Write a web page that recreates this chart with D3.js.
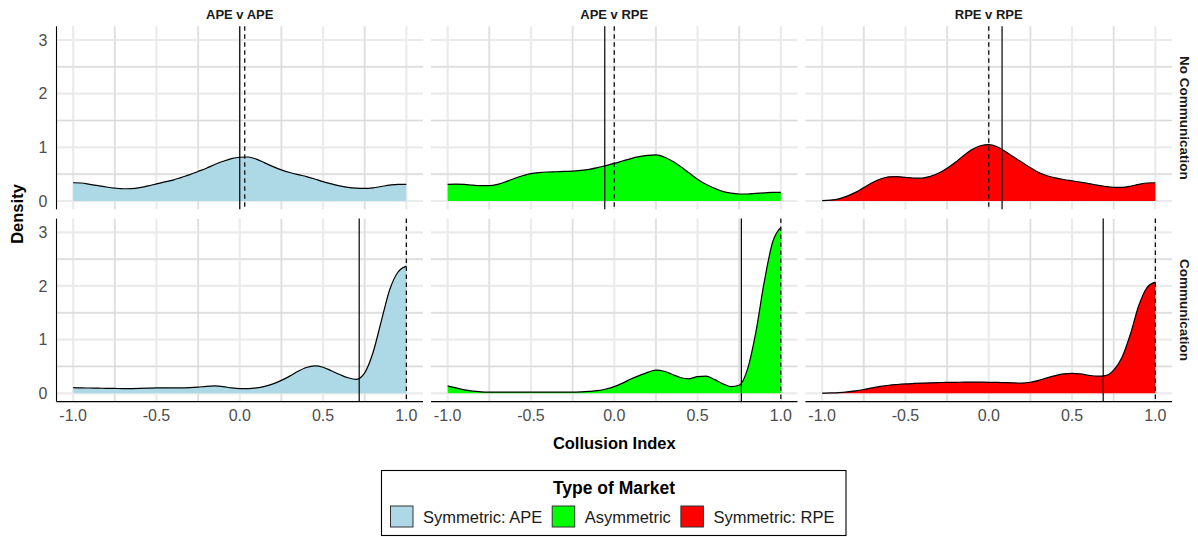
<!DOCTYPE html>
<html>
<head>
<meta charset="utf-8">
<script src="https://cdn.jsdelivr.net/npm/d3@7"></script>
<style>
  body { margin: 0; background: #fff; }
  svg { display: block; font-family: "Liberation Sans", Arial, Helvetica, sans-serif; }
</style>
</head>
<body>
<svg id="chart" width="1198" height="537"></svg>
<script>
// ---- data -------------------------------------------------------------
const markets = ["APE v APE", "APE v RPE", "RPE v RPE"];
const conditions = ["No Communication", "Communication"];
const legendLabels = ["Symmetric: APE", "Asymmetric", "Symmetric: RPE"];
const fills = ["#ADD8E6", "#00FF00", "#FF0000"];
const xTicks = [-1.0, -0.5, 0.0, 0.5, 1.0];
const xTickLabels = ["-1.0", "-0.5", "0.0", "0.5", "1.0"];
const yTicks = [0, 1, 2, 3];

// evaluation grid of the collusion index
const xGrid = [-1.00, -0.95, -0.90, -0.85, -0.80, -0.75, -0.70, -0.65, -0.60, -0.55,
               -0.50, -0.45, -0.40, -0.35, -0.30, -0.25, -0.20, -0.15, -0.10, -0.05,
                0.00,  0.05,  0.10,  0.15,  0.20,  0.25,  0.30,  0.35,  0.40,  0.45,
                0.50,  0.55,  0.60,  0.65,  0.70,  0.75,  0.80,  0.85,  0.90,  0.95, 1.00];

// kernel density estimates, no communication
const densApeNoComm = [0.34, 0.335, 0.31, 0.285, 0.26, 0.24, 0.228, 0.232, 0.25, 0.28,
                       0.32, 0.355, 0.39, 0.44, 0.49, 0.55, 0.61, 0.68, 0.74, 0.79,
                       0.815, 0.82, 0.78, 0.71, 0.64, 0.58, 0.53, 0.49, 0.455, 0.41,
                       0.36, 0.32, 0.28, 0.255, 0.24, 0.235, 0.245, 0.27, 0.295, 0.31, 0.31];
const densMixNoComm = [0.31, 0.315, 0.31, 0.295, 0.285, 0.285, 0.31, 0.36, 0.42, 0.47,
                       0.51, 0.53, 0.54, 0.545, 0.55, 0.555, 0.57, 0.59, 0.62, 0.66,
                       0.70, 0.745, 0.79, 0.825, 0.85, 0.86, 0.82, 0.74, 0.64, 0.52,
                       0.405, 0.31, 0.24, 0.18, 0.145, 0.13, 0.13, 0.14, 0.15, 0.16, 0.16];
const densRpeNoComm = [0.005, 0.015, 0.04, 0.09, 0.16, 0.25, 0.34, 0.41, 0.45, 0.455,
                       0.44, 0.425, 0.425, 0.46, 0.52, 0.61, 0.72, 0.85, 0.96, 1.03,
                       1.05, 1.01, 0.92, 0.82, 0.72, 0.62, 0.53, 0.47, 0.43, 0.40,
                       0.375, 0.35, 0.325, 0.295, 0.27, 0.255, 0.255, 0.275, 0.31, 0.335, 0.34];
// kernel density estimates, communication
const densApeComm = [0.105, 0.10, 0.098, 0.095, 0.092, 0.09, 0.088, 0.088, 0.09, 0.095,
                     0.10, 0.102, 0.10, 0.10, 0.105, 0.115, 0.13, 0.137, 0.125, 0.10,
                     0.087, 0.088, 0.10, 0.13, 0.175, 0.24, 0.32, 0.41, 0.48, 0.51,
                     0.485, 0.42, 0.35, 0.29, 0.26, 0.38, 0.76, 1.35, 1.93, 2.26, 2.37];
const densMixComm = [0.137, 0.10, 0.062, 0.04, 0.028, 0.022, 0.02, 0.02, 0.02, 0.02,
                     0.02, 0.02, 0.02, 0.02, 0.02, 0.02, 0.025, 0.035, 0.05, 0.08,
                     0.124, 0.19, 0.267, 0.33, 0.39, 0.43, 0.41, 0.35, 0.29, 0.27,
                     0.31, 0.32, 0.26, 0.18, 0.124, 0.15, 0.45, 1.14, 2.07, 2.81, 3.09];
const densRpeComm = [0.003, 0.006, 0.012, 0.025, 0.045, 0.07, 0.10, 0.128, 0.15, 0.164,
                     0.175, 0.183, 0.19, 0.195, 0.2, 0.203, 0.205, 0.207, 0.208, 0.207,
                     0.205, 0.202, 0.198, 0.193, 0.19, 0.205, 0.24, 0.29, 0.33, 0.36,
                     0.37, 0.36, 0.335, 0.32, 0.33, 0.43, 0.67, 1.10, 1.63, 1.97, 2.07];

// mean (solid) and median (dashed) of the collusion index per panel
const meanNoComm   = [0.00, -0.057, 0.08];
const medianNoComm = [0.03,  0.00,  0.00];
const meanComm     = [0.717, 0.763, 0.687];
const medianComm   = [1.00,  1.00,  1.00];

const densities = [[densApeNoComm, densMixNoComm, densRpeNoComm],
                   [densApeComm, densMixComm, densRpeComm]];
const means = [meanNoComm, meanComm];
const medians = [medianNoComm, medianComm];

// ---- layout -----------------------------------------------------------
const svg = d3.select("#chart");
const panelLeft = [56.5, 431, 805.5];
const panelTop = [26.3, 218.6];
const W = 366.5, H = 183;

const x = d3.scaleLinear().domain([-1.1, 1.1]).range([0, W]);
const y = d3.scaleLinear().domain([-0.155, 3.255]).range([H, 0]);

const minorX = [-0.75, -0.25, 0.25, 0.75];
const minorY = [0.5, 1.5, 2.5];

const area = d3.area()
  .x((d, i) => x(xGrid[i]))
  .y0(y(0))
  .y1(d => y(d))
  .curve(d3.curveMonotoneX);
const line = d3.line()
  .x((d, i) => x(xGrid[i]))
  .y(d => y(d))
  .curve(d3.curveMonotoneX);

conditions.forEach((cond, r) => {
  markets.forEach((mkt, c) => {
    const g = svg.append("g").attr("transform", `translate(${panelLeft[c]},${panelTop[r]})`);

    // grid
    const grid = g.append("g");
    grid.selectAll(".gx").data(xTicks.concat(minorX)).join("line")
      .attr("x1", d => x(d)).attr("x2", d => x(d)).attr("y1", 0).attr("y2", H)
      .attr("stroke", "#ebebeb").attr("stroke-width", 2.2);
    grid.selectAll(".gy").data(yTicks.concat(minorY)).join("line")
      .attr("y1", d => y(d)).attr("y2", d => y(d)).attr("x1", 0).attr("x2", W)
      .attr("stroke", "#ebebeb").attr("stroke-width", 2.2);
    grid.selectAll(".mx").data(minorX).join("line")
      .attr("x1", d => x(d)).attr("x2", d => x(d)).attr("y1", 0).attr("y2", H)
      .attr("stroke", "#d8d8d8").attr("stroke-width", 0.8);
    grid.selectAll(".my").data(minorY).join("line")
      .attr("y1", d => y(d)).attr("y2", d => y(d)).attr("x1", 0).attr("x2", W)
      .attr("stroke", "#d4d4d4").attr("stroke-width", 0.8);

    // density
    const dens = densities[r][c];
    g.append("path").attr("d", area(dens)).attr("fill", fills[c]);
    g.append("path").attr("d", line(dens)).attr("fill", "none")
      .attr("stroke", "#000").attr("stroke-width", 1.2);

    // mean and median
    g.append("line")
      .attr("x1", x(means[r][c])).attr("x2", x(means[r][c]))
      .attr("y1", 0).attr("y2", H)
      .attr("stroke", "#000").attr("stroke-width", 1.2);
    g.append("line")
      .attr("x1", x(medians[r][c])).attr("x2", x(medians[r][c]))
      .attr("y1", 0).attr("y2", H)
      .attr("stroke", "#000").attr("stroke-width", 1.2)
      .attr("stroke-dasharray", "4.5,3.5");

    // axes
    if (c === 0) {
      g.append("line").attr("x1", 0).attr("x2", 0).attr("y1", 0).attr("y2", H)
        .attr("stroke", "#000").attr("stroke-width", 1.1);
      g.selectAll(".yt").data(yTicks).join("text")
        .attr("x", -9).attr("y", d => y(d)).attr("dy", "0.36em")
        .attr("text-anchor", "end").attr("font-size", 16).attr("fill", "#4d4d4d")
        .text(d => d);
    }
    if (r === 1) {
      g.append("line").attr("x1", 0).attr("x2", W).attr("y1", H).attr("y2", H)
        .attr("stroke", "#000").attr("stroke-width", 1.1);
      g.selectAll(".xt").data(xTicks).join("text")
        .attr("x", d => x(d)).attr("y", H + 19.5)
        .attr("text-anchor", "middle").attr("font-size", 16).attr("fill", "#4d4d4d")
        .text((d, i) => xTickLabels[i]);
    }

    // strips
    if (r === 0) {
      g.append("text").attr("x", W / 2).attr("y", -7.3)
        .attr("text-anchor", "middle").attr("font-size", 13).attr("font-weight", "bold")
        .attr("fill", "#1a1a1a").text(mkt);
    }
    if (c === 2) {
      g.append("text")
        .attr("transform", `translate(${W + 12.5},${H / 2}) rotate(90)`)
        .attr("text-anchor", "middle").attr("dominant-baseline", "central")
        .attr("font-size", 13.5).attr("font-weight", "bold").attr("fill", "#1a1a1a")
        .text(cond);
    }
  });
});

// axis titles
svg.append("text")
  .attr("transform", `translate(17,214) rotate(-90)`)
  .attr("text-anchor", "middle").attr("dominant-baseline", "central")
  .attr("font-size", 16.5).attr("font-weight", "bold").attr("fill", "#000")
  .text("Density");
svg.append("text")
  .attr("x", 614.3).attr("y", 449)
  .attr("text-anchor", "middle")
  .attr("font-size", 16.5).attr("font-weight", "bold").attr("fill", "#000")
  .text("Collusion Index");

// legend
const legend = svg.append("g");
legend.append("rect")
  .attr("x", 381.5).attr("y", 470.5).attr("width", 464.5).attr("height", 65)
  .attr("fill", "#fff").attr("stroke", "#000").attr("stroke-width", 1.1);
legend.append("text")
  .attr("x", 614).attr("y", 493.5).attr("text-anchor", "middle")
  .attr("font-size", 17.5).attr("font-weight", "bold").attr("fill", "#000")
  .text("Type of Market");
let kx = 390.5;
legendLabels.forEach((lab, i) => {
  legend.append("rect")
    .attr("x", kx).attr("y", 506).attr("width", 22.5).attr("height", 21)
    .attr("fill", fills[i]).attr("stroke", "#333").attr("stroke-width", 1);
  const t = legend.append("text")
    .attr("x", kx + 32.5).attr("y", 522.5)
    .attr("font-size", 16.5).attr("fill", "#1a1a1a").text(lab);
  kx = kx + 32.5 + t.node().getComputedTextLength() + 10;
});
</script>
</body>
</html>
